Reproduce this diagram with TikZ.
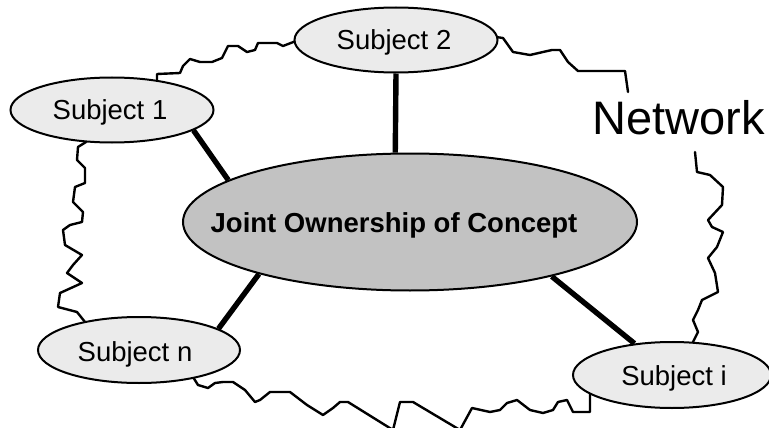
\documentclass[tikz,border=0pt]{standalone}
\usepackage{fontspec}
\setmainfont{Liberation Sans}
\usetikzlibrary{shapes.geometric}
\begin{document}
\begin{tikzpicture}[x=1pt,y=-1pt,
  subj/.style={ellipse,draw,line width=2pt,fill=black!8,inner sep=0pt},
  mainell/.style={ellipse,draw,line width=2pt,fill=black!24,inner sep=0pt,
    minimum width=454pt,minimum height=137pt},
  subjtext/.style={font=\fontsize{27.5}{30}\selectfont,anchor=base,inner sep=0pt},
  cloud/.style={line width=2.4pt,line join=round,line cap=round},
  link/.style={line width=5.4pt}]
\useasboundingbox (0,0) rectangle (769,428);
% network boundary
\draw[cloud] (157,80)--(157,74)--(180,73)--(183,66)--(190,59)--(200,62)--(212,62)--(222,58)--(228,46)--(238,46)--(247,52)--(255,50)--(258,43)--(277,43)--(283,46)--(296,41);
\draw[cloud] (496,37)--(503,38)--(513,52)--(530,55)--(543,52)--(552,50)--(560,50)--(568,62)--(578,71)--(625,71)--(628,92);
\draw[cloud] (695,152)--(697,172)--(710,175)--(723,187)--(722,205)--(708,220)--(712,227)--(723,232)--(717,247)--(708,258)--(715,273)--(718,292)--(702,300)--(698,310)--(693,320)--(698,332)--(693,342);
\draw[cloud] (590,393)--(590,412)--(573,412)--(567,400)--(558,402)--(553,410)--(543,413)--(530,410)--(517,400)--(507,403)--(500,410)--(490,412)--(472,408)--(460,430)--(413,402)--(400,402)--(393,430)--(348,402)--(340,402)--(333,408)--(323,415)--(307,405)--(290,392)--(270,392)--(260,400)--(255,402)--(245,390)--(233,382)--(223,382)--(215,383)--(208,388)--(198,385)--(193,377);
\draw[cloud] (86,142)--(78,147)--(77,160)--(85,168)--(85,183)--(75,187)--(73,202)--(83,212)--(82,222)--(70,225)--(63,230)--(65,245)--(82,255)--(73,265)--(67,273)--(82,283)--(60,293)--(58,307)--(77,312)--(85,322);
% nodes
\node[mainell] (m) at (410,222) {};
\node[subj,minimum width=203pt,minimum height=65pt] (s1) at (112,110) {};
\node[subj,minimum width=203pt,minimum height=65pt] (s2) at (396,40) {};
\node[subj,minimum width=202pt,minimum height=66pt] (sn) at (139,350) {};
\node[subj,minimum width=198pt,minimum height=66pt] (si) at (672,375) {};
% connectors
\draw[link] (s1.-14) -- (m.167);
\draw[link] (s2.south) -- (m.102.5);
\draw[link] (sn.15) -- (m.199);
\draw[link] (m.-21.4) -- (si.140);
% texts
\node[subjtext] (t1) at (110,120) {Subject 1};
\node[subjtext] (t2) at (394,50) {Subject 2};
\node[subjtext] (tn) at (135,361) {Subject n};
\node[subjtext] (ti) at (674,385) {Subject i};
\node[font=\fontsize{27.5}{30}\selectfont\bfseries,anchor=base,inner sep=0pt] (tm) at (394,232) {Joint Ownership of Concept};
\node[font=\fontsize{47}{50}\selectfont,anchor=base west,inner sep=0pt] (net) at (592,134) {Network};
\end{tikzpicture}
\end{document}
